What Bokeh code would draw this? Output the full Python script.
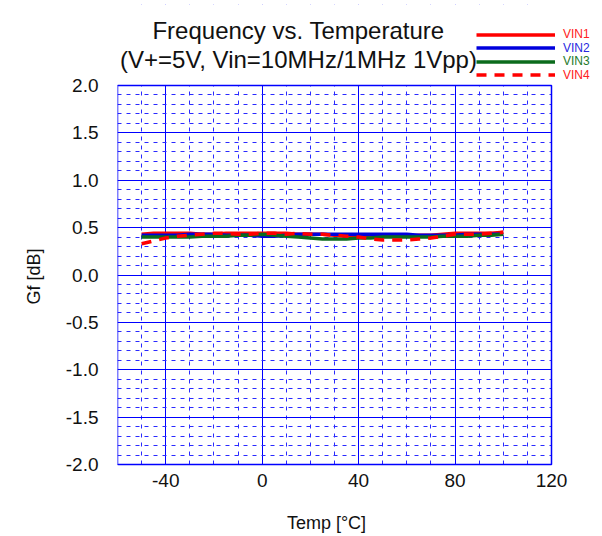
from bokeh.plotting import figure
from bokeh.models import (FixedTicker, Label, Legend, LegendItem, CustomJSTickFormatter,
                          BoxAnnotation, Title)
from bokeh.embed import file_html
from bokeh.resources import INLINE

# ---- data ----
temps = [-50, -45, -40, -35, -30, -25, -20, -15, -10, -5, 0, 5, 10, 15, 20, 25,
         30, 35, 40, 45, 50, 55, 60, 65, 70, 75, 80, 85, 90, 95, 100]
vin1 = [0.43, 0.44, 0.44, 0.44, 0.44, 0.43, 0.43, 0.44, 0.44, 0.44, 0.44, 0.44, 0.44, 0.43, 0.43, 0.43,
        0.42, 0.42, 0.42, 0.41, 0.41, 0.41, 0.41, 0.42, 0.42, 0.43, 0.44, 0.44, 0.44, 0.44, 0.45]
vin2 = [0.42, 0.42, 0.42, 0.42, 0.43, 0.43, 0.43, 0.42, 0.42, 0.42, 0.41, 0.41, 0.42, 0.43, 0.43, 0.43,
        0.43, 0.43, 0.43, 0.43, 0.43, 0.43, 0.43, 0.42, 0.42, 0.42, 0.42, 0.43, 0.43, 0.43, 0.43]
vin3 = [0.40, 0.40, 0.40, 0.40, 0.40, 0.41, 0.41, 0.41, 0.42, 0.42, 0.43, 0.42, 0.41, 0.40, 0.39, 0.38,
        0.38, 0.38, 0.39, 0.39, 0.40, 0.40, 0.40, 0.40, 0.40, 0.41, 0.41, 0.41, 0.42, 0.42, 0.43]
vin4 = [0.33, 0.36, 0.39, 0.41, 0.42, 0.43, 0.44, 0.44, 0.43, 0.43, 0.44, 0.44, 0.43, 0.44, 0.43, 0.43,
        0.42, 0.41, 0.40, 0.38, 0.37, 0.37, 0.37, 0.38, 0.39, 0.41, 0.43, 0.43, 0.43, 0.44, 0.45]

series_names = ["VIN1", "VIN2", "VIN3", "VIN4"]
x_min, x_max = -60, 120
y_min, y_max = -2.0, 2.0
x_ticks = [-40, 0, 40, 80, 120]
x_tick_labels = ["-40", "0", "40", "80", "120"]
x_major_grid = [-40, 0, 40, 80]
x_minor_grid = [-50, -30, -20, -10, 10, 20, 30, 50, 60, 70, 90, 100, 110]
y_ticks = [-2.0, -1.5, -1.0, -0.5, 0.0, 0.5, 1.0, 1.5, 2.0]
y_minor_grid = [round(-2.0 + 0.1 * i, 1) for i in range(41) if i % 5 != 0]

title1 = "Frequency vs. Temperature"
title2 = "(V+=5V, Vin=10MHz/1MHz 1Vpp)"
x_title = "Temp [°C]"
y_title = "Gf [dB]"

# ---- layout (pixels, picture coordinates) ----
W, H = 598, 536
FL, FR, FT, FB = 117, 551, 85, 464          # visible chart box
TOP = 4                                      # frame extended around the box for titles/legend
px_x = (FR - FL) / (x_max - x_min)
px_y = (FB - FT) / (y_max - y_min)
x_end = x_min + (W - FL) / px_x
y_end = y_max + (FT - TOP) / px_y
y_start = y_min - (H - FB) / px_y


def sy(img_y):
    """picture y -> screen y measured upward from frame bottom"""
    return H - img_y


def sx(img_x):
    return img_x - FL


FONT = "Liberation Sans"
GRID = "#0000FF"
MINOR = "#2A2AFF"
TXT = "#111111"

p = figure(width=W, height=H, x_range=(x_min, x_end), y_range=(y_start, y_end),
           output_backend="svg", toolbar_location=None,
           min_border_left=FL, min_border_right=0, min_border_top=TOP, min_border_bottom=0)
p.background_fill_color = "white"
p.border_fill_color = "white"
p.outline_line_color = None
p.xaxis.visible = False

yax = p.yaxis[0]
yax.axis_line_color = None
yax.major_tick_line_color = None
yax.minor_tick_line_color = None
yax.major_label_text_font = FONT
yax.major_label_text_font_size = "19px"
yax.major_label_text_color = TXT
yax.ticker = FixedTicker(ticks=y_ticks)
yax.formatter = CustomJSTickFormatter(code="return tick.toFixed(1);")
yax.major_label_standoff = 13

yt = Title(text=y_title, align="left", offset=H - 304, standoff=38, text_font=FONT,
           text_font_size="18px", text_font_style="normal", text_color=TXT)
p.add_layout(yt, "left")

# grids
p.xgrid.ticker = FixedTicker(ticks=x_major_grid, minor_ticks=x_minor_grid)
p.ygrid.ticker = FixedTicker(ticks=y_ticks, minor_ticks=y_minor_grid)
for g in (p.xgrid[0], p.ygrid[0]):
    g.grid_line_color = GRID
    g.grid_line_width = 1
    g.minor_grid_line_color = MINOR
    g.minor_grid_line_dash = "4 5"
    g.minor_grid_line_width = 1

# series
colors = ["#FF0000", "#0000DD", "#0B6B1C", "#FF0000"]
label_colors = ["#FF2020", "#2828E0", "#1E7A2A", "#FF2020"]
dashes = ["solid", "solid", "solid", "10 8"]
data = [vin1, vin2, vin3, vin4]
renderers = []
for vals, c, d in zip(data, colors, dashes):
    renderers.append(p.line(temps, vals, line_color=c, line_width=3.5, line_dash=d))

# white masks over the extended frame parts, then the visible box border
p.add_layout(BoxAnnotation(bottom=y_max, fill_color="white", fill_alpha=1, line_color=None))
p.add_layout(BoxAnnotation(top=y_min, fill_color="white", fill_alpha=1, line_color=None))
p.add_layout(BoxAnnotation(left=x_max, fill_color="white", fill_alpha=1, line_color=None))
p.add_layout(BoxAnnotation(left=x_min, right=x_max, bottom=y_min, top=y_max,
                           fill_alpha=0, line_color=GRID, line_width=1.5, line_alpha=1))

# x tick labels and x title
for t, lbl in zip(x_ticks, x_tick_labels):
    p.add_layout(Label(x=t, y=sy(480), x_units="data", y_units="screen", text=lbl,
                       text_align="center", text_baseline="middle",
                       text_font=FONT, text_font_size="19px", text_color=TXT))
p.add_layout(Label(x=sx(326), y=sy(522), x_units="screen", y_units="screen", text=x_title,
                   text_align="center", text_baseline="middle",
                   text_font=FONT, text_font_size="18px", text_color=TXT))

# legends (one per item to colour labels individually)
leg_centers = [34.5, 48, 61.5, 75]
for name, r, lc, yc in zip(series_names, renderers, label_colors, leg_centers):
    lg = Legend(items=[LegendItem(label=name, renderers=[r])], location=(sx(476), sy(yc + 6.5)),
                glyph_width=79, glyph_height=13, label_height=13, label_standoff=8,
                padding=0, margin=0, spacing=0,
                border_line_color=None, background_fill_alpha=0,
                label_text_font=FONT, label_text_font_size="12px",
                label_text_color=lc, label_text_baseline="middle")
    p.add_layout(lg, "center")

# chart titles
for txt, base in ((title1, 30), (title2, 59)):
    p.add_layout(Label(x=sx(298), y=sy(base), x_units="screen", y_units="screen", text=txt,
                       text_align="center", text_baseline="alphabetic",
                       text_font=FONT, text_font_size="24px", text_color=TXT))

open("out.html", "w").write(file_html(p, INLINE))
